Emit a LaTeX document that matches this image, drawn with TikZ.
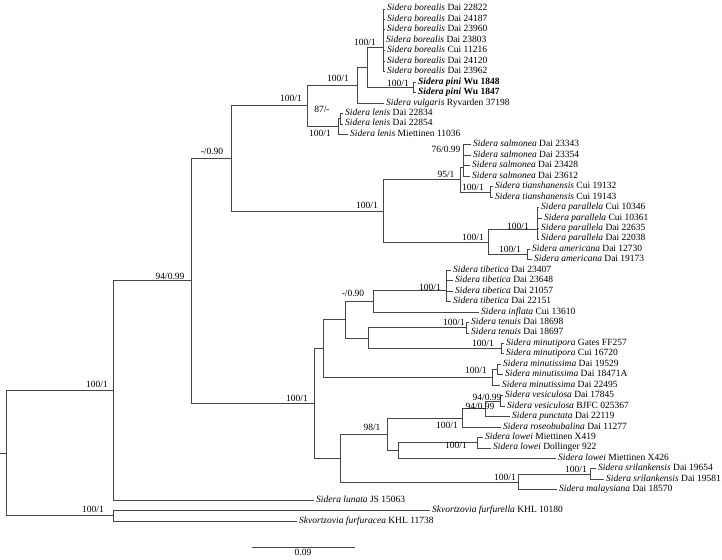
\documentclass[tikz,border=0pt]{standalone}
\usepackage{fontspec}
\setmainfont{Liberation Serif}
\definecolor{treegray}{RGB}{70,70,70}
\usepackage{tikz}
\newcommand{\taxfont}{\fontsize{9.5}{10.5}\selectfont}
\newcommand{\supfont}{\fontsize{9.5}{10}\selectfont}
\tikzstyle{branch} = [draw=treegray, line width=0.8pt]
\tikzstyle{taxon} = [anchor=west, inner xsep=2pt, inner ysep=0pt, text height=6pt, text depth=2pt, font=\taxfont]
\tikzstyle{support} = [inner sep=0pt, font=\supfont]

\begin{document}
\begin{tikzpicture}[x=1pt,y=-1pt]
  \useasboundingbox (0,0) rectangle (722,559);
  % internal nodes
  \coordinate (stub) at (0,453.2);
  \coordinate (root) at (6,453.2);
  \coordinate (nSid) at (113,390.5);
  \coordinate (nSkv) at (113,515.8);
  \coordinate (nB) at (191,280.8);
  \coordinate (nC) at (231,158.3);
  \coordinate (nD) at (307,105.8);
  \coordinate (nE) at (357,85);
  \coordinate (nG) at (367,67);
  \coordinate (nBor) at (383,47);
  \coordinate (nPini) at (413,87.4);
  \coordinate (nLen) at (338,126.6);
  \coordinate (nLen2) at (340,118.75);
  \coordinate (nS) at (383,210.9);
  \coordinate (nT) at (460,179.5);
  \coordinate (nSal) at (463,167.2);
  \coordinate (nTia) at (490,191.9);
  \coordinate (nU) at (488,242.2);
  \coordinate (nPar) at (537,229.8);
  \coordinate (nAme) at (527,254.6);
  \coordinate (nH) at (314,403.3);
  \coordinate (nI) at (323,348.5);
  \coordinate (nK) at (345,319.6);
  \coordinate (nK1) at (373,301);
  \coordinate (nTib) at (446,290);
  \coordinate (nK2) at (368,338.2);
  \coordinate (nTen) at (466,327.7);
  \coordinate (nMinp) at (501,348.6);
  \coordinate (nMins) at (492,377.4);
  \coordinate (nMins1) at (497,369.5);
  \coordinate (nJ) at (340,458);
  \coordinate (nJ2) at (387,434.2);
  \coordinate (nV) at (462,417.9);
  \coordinate (nVP) at (485,408.7);
  \coordinate (nVes) at (500,400.9);
  \coordinate (nLow) at (398,450.5);
  \coordinate (nLow1) at (477,442.7);
  \coordinate (nSr) at (518,481.9);
  \coordinate (nSri) at (590,474);

  % taxa
  \node[taxon] (bor1) at (385,9) {\textit{Sidera borealis} Dai 22822};
  \node[taxon] (bor2) at (385,19.45) {\textit{Sidera borealis} Dai 24187};
  \node[taxon] (bor3) at (385,29.9) {\textit{Sidera borealis} Dai 23960};
  \node[taxon] (bor4) at (384,40.35) {\textit{Sidera borealis} Dai 23803};
  \node[taxon] (bor5) at (385,50.8) {\textit{Sidera borealis} Cui 11216};
  \node[taxon] (bor6) at (385,61.25) {\textit{Sidera borealis} Dai 24120};
  \node[taxon] (bor7) at (385,71.7) {\textit{Sidera borealis} Dai 23962};
  \node[taxon] (pini1) at (416,82.15) {\textbf{\textit{Sidera pini} Wu 1848}};
  \node[taxon] (pini2) at (416,92.6) {\textbf{\textit{Sidera pini} Wu 1847}};
  \node[taxon] (vulg) at (384,103.05) {\textit{Sidera vulgaris} Ryvarden 37198};
  \node[taxon] (len1) at (343,113.5) {\textit{Sidera lenis} Dai 22834};
  \node[taxon] (len2) at (343,123.95) {\textit{Sidera lenis} Dai 22854};
  \node[taxon] (len3) at (348,134.4) {\textit{Sidera lenis} Miettinen 11036};
  \node[taxon] (sal1) at (471,144.85) {\textit{Sidera salmonea} Dai 23343};
  \node[taxon] (sal2) at (471,155.3) {\textit{Sidera salmonea} Dai 23354};
  \node[taxon] (sal3) at (470,165.75) {\textit{Sidera salmonea} Dai 23428};
  \node[taxon] (sal4) at (470,176.2) {\textit{Sidera salmonea} Dai 23612};
  \node[taxon] (tia1) at (493,186.65) {\textit{Sidera tianshanensis} Cui 19132};
  \node[taxon] (tia2) at (493,197.1) {\textit{Sidera tianshanensis} Cui 19143};
  \node[taxon] (par1) at (539,207.55) {\textit{Sidera parallela} Cui 10346};
  \node[taxon] (par2) at (542,218) {\textit{Sidera parallela} Cui 10361};
  \node[taxon] (par3) at (539,228.45) {\textit{Sidera parallela} Dai 22635};
  \node[taxon] (par4) at (539,238.9) {\textit{Sidera parallela} Dai 22038};
  \node[taxon] (ame1) at (530,249.35) {\textit{Sidera americana} Dai 12730};
  \node[taxon] (ame2) at (532,259.8) {\textit{Sidera americana} Dai 19173};
  \node[taxon] (tib1) at (451,270.25) {\textit{Sidera tibetica} Dai 23407};
  \node[taxon] (tib2) at (453,280.7) {\textit{Sidera tibetica} Dai 23648};
  \node[taxon] (tib3) at (453,291.15) {\textit{Sidera tibetica} Dai 21057};
  \node[taxon] (tib4) at (451,301.6) {\textit{Sidera tibetica} Dai 22151};
  \node[taxon] (infl) at (479,312.05) {\textit{Sidera inflata} Cui 13610};
  \node[taxon] (ten1) at (469,322.5) {\textit{Sidera tenuis} Dai 18698};
  \node[taxon] (ten2) at (469,332.95) {\textit{Sidera tenuis} Dai 18697};
  \node[taxon] (minp1) at (504,343.4) {\textit{Sidera minutipora} Gates FF257};
  \node[taxon] (minp2) at (504,353.85) {\textit{Sidera minutipora} Cui 16720};
  \node[taxon] (mins1) at (501,364.3) {\textit{Sidera minutissima} Dai 19529};
  \node[taxon] (mins2) at (503,374.75) {\textit{Sidera minutissima} Dai 18471A};
  \node[taxon] (mins3) at (500,385.2) {\textit{Sidera minutissima} Dai 22495};
  \node[taxon] (ves1) at (503,395.65) {\textit{Sidera vesiculosa} Dai 17845};
  \node[taxon] (ves2) at (505,406.1) {\textit{Sidera vesiculosa} BJFC 025367};
  \node[taxon] (punc) at (510,416.55) {\textit{Sidera punctata} Dai 22119};
  \node[taxon] (rose) at (501,427) {\textit{Sidera roseobubalina} Dai 11277};
  \node[taxon] (low1) at (483,437.45) {\textit{Sidera lowei} Miettinen X419};
  \node[taxon] (low2) at (491,447.9) {\textit{Sidera lowei} Dollinger 922};
  \node[taxon] (low3) at (556,458.35) {\textit{Sidera lowei} Miettinen X426};
  \node[taxon] (sri1) at (596,468.8) {\textit{Sidera srilankensis} Dai 19654};
  \node[taxon] (sri2) at (604,479.25) {\textit{Sidera srilankensis} Dai 19581};
  \node[taxon] (mala) at (557,489.7) {\textit{Sidera malaysiana} Dai 18570};
  \node[taxon] (luna) at (314,500.15) {\textit{Sidera lunata} JS 15063};
  \node[taxon] (furl) at (430,510.6) {\textit{Skvortzovia furfurella} KHL 10180};
  \node[taxon] (furc) at (297,521.05) {\textit{Skvortzovia furfuracea} KHL 11738};

  % branches
  \draw[branch] (stub) -- (root);
  \foreach \p/\c in {root/nSid, root/nSkv, nSkv/furl.west, nSkv/furc.west,
      nSid/nB, nSid/luna.west, nB/nC, nB/nH, nC/nD, nC/nS,
      nD/nE, nD/nLen, nE/nG, nE/vulg.west, nG/nBor, nG/nPini,
      nBor/bor1.west, nBor/bor2.west, nBor/bor3.west, nBor/bor4.west,
      nBor/bor5.west, nBor/bor6.west, nBor/bor7.west,
      nPini/pini1.west, nPini/pini2.west,
      nLen/nLen2, nLen/len3.west, nLen2/len1.west, nLen2/len2.west,
      nS/nT, nS/nU, nT/nSal, nT/nTia,
      nSal/sal1.west, nSal/sal2.west, nSal/sal3.west, nSal/sal4.west,
      nTia/tia1.west, nTia/tia2.west, nU/nPar, nU/nAme,
      nPar/par1.west, nPar/par2.west, nPar/par3.west, nPar/par4.west,
      nAme/ame1.west, nAme/ame2.west,
      nH/nI, nH/nJ, nI/nK, nI/nMins, nK/nK1, nK/nK2,
      nK1/nTib, nK1/infl.west,
      nTib/tib1.west, nTib/tib2.west, nTib/tib3.west, nTib/tib4.west,
      nK2/nTen, nK2/nMinp, nTen/ten1.west, nTen/ten2.west,
      nMinp/minp1.west, nMinp/minp2.west,
      nMins/nMins1, nMins/mins3.west, nMins1/mins1.west, nMins1/mins2.west,
      nJ/nJ2, nJ/nSr, nJ2/nV, nJ2/nLow, nV/nVP, nV/rose.west,
      nVP/nVes, nVP/punc.west, nVes/ves1.west, nVes/ves2.west,
      nLow/nLow1, nLow/low3.west, nLow1/low1.west, nLow1/low2.west,
      nSr/nSri, nSr/mala.west, nSri/sri1.west, nSri/sri2.west}
    \draw[branch] (\p) |- (\c);

  % support values
  \node[support] (sSid) at (97,384) {100/1};
  \node[support] (sSkv) at (93,509) {100/1};
  \node[support] (sB) at (170,276) {94/0.99};
  \node[support] (sC) at (212,151) {-/0.90};
  \node[support] (sD) at (291,98) {100/1};
  \node[support] (sE) at (338,78) {100/1};
  \node[support] (sBor) at (365,42) {100/1};
  \node[support] (sPini) at (398,83) {100/1};
  \node[support] (sLen2) at (322,109) {87/-};
  \node[support] (sLen) at (320,133) {100/1};
  \node[support] (sS) at (367,205) {100/1};
  \node[support] (sT) at (446,174) {95/1};
  \node[support] (sSal) at (446,149) {76/0.99};
  \node[support] (sTia) at (473,187) {100/1};
  \node[support] (sU) at (473,237) {100/1};
  \node[support] (sPar) at (518,226) {100/1};
  \node[support] (sAme) at (510,249) {100/1};
  \node[support] (sH) at (297,398) {100/1};
  \node[support] (sK1) at (353,293) {-/0.90};
  \node[support] (sTib) at (430,287) {100/1};
  \node[support] (sTen) at (454,322) {100/1};
  \node[support] (sMinp) at (483,343) {100/1};
  \node[support] (sMins) at (476,370) {100/1};
  \node[support] (sVes) at (487,397) {94/0.99};
  \node[support] (sVP) at (480,406) {94/0.99};
  \node[support] (sV) at (447,425) {100/1};
  \node[support] (sJ2) at (372,427) {98/1};
  \node[support] (sLow1) at (456,445) {100/1};
  \node[support] (sSr) at (505,477) {100/1};
  \node[support] (sSri) at (576,469) {100/1};

  % scale bar
  \coordinate (barL) at (251.7,547);
  \coordinate (barR) at (355,547);
  \draw[branch] (barL) -- (barR);
  \node[support] (barlab) at (303,552.5) {0.09};
\end{tikzpicture}
\end{document}
